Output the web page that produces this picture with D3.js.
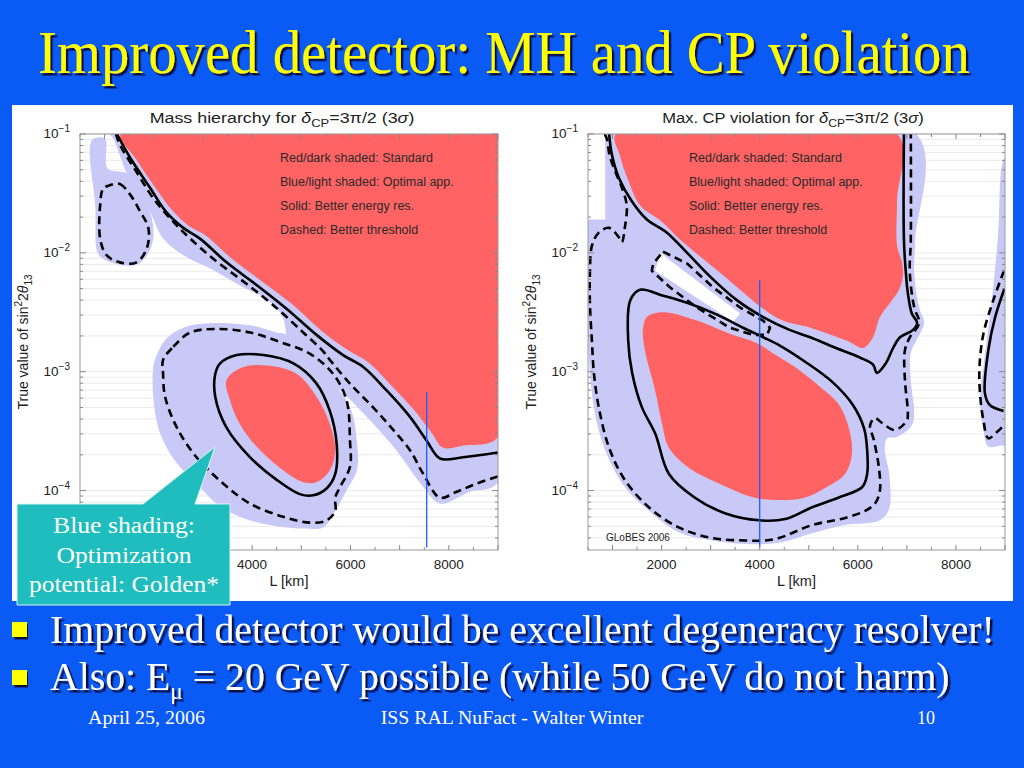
<!DOCTYPE html>
<html>
<head>
<meta charset="utf-8">
<script src="https://cdn.jsdelivr.net/npm/d3@7"></script>
<style>
  html, body { margin: 0; padding: 0; background: #0a5af5; }
  svg { display: block; }
</style>
</head>
<body>
<svg id="slide" width="1024" height="768">
  <defs>
    <filter id="shadow" x="-5%" y="-20%" width="110%" height="150%">
      <feDropShadow dx="2.5" dy="2.5" stdDeviation="0.4" flood-color="#101040" flood-opacity="1"/>
    </filter>
  </defs>
</svg>
<script>
// every point is [L in km, log10 of true sin^2 2theta13]
const lDomain = [500, 9000];
const logDomain = [-4.5, -1];
const xTicks = [2000, 4000, 6000, 8000];
const yDecades = [-1, -2, -3, -4];
const legendLines = ["Red/dark shaded: Standard", "Blue/light shaded: Optimal app.",
                     "Solid: Better energy res.", "Dashed: Better threshold"];

// ---- left panel: mass hierarchy ----
const mhBlueBlob = [[700,-1.12],[770,-1.04],[1010,-1.04],[1060,-1.29],[1450,-1.33],[1650,-1.46],
  [1920,-1.65],[1990,-1.88],[1860,-2.02],[1650,-2.10],[1310,-2.10],[970,-2.05],[850,-1.99],[810,-1.60]];
const mhBlueBand = [[1110,-1.00],[9000,-1.00],[9000,-3.93],[8430,-4.01],[7820,-4.11],[7480,-3.97],
  [6870,-3.63],[6260,-3.35],[5850,-3.18],[5180,-2.96],[4770,-2.85],[4700,-2.72],[4630,-2.55],
  [4360,-2.41],[3820,-2.29],[3140,-2.13],[2600,-2.02],[2190,-1.88],[1920,-1.65],[1450,-1.33],
  [1310,-1.18],[1180,-1.04]];
const mhBlueOval = [[2060,-2.86],[2260,-2.72],[2670,-2.62],[3280,-2.59],[3960,-2.61],[4500,-2.67],
  [4700,-2.69],[4840,-2.85],[5580,-3.07],[5990,-3.30],[6130,-3.58],[6130,-3.83],[5920,-4.00],
  [5650,-4.20],[5450,-4.31],[5040,-4.32],[4360,-4.29],[3750,-4.22],[3280,-4.11],[2870,-3.94],
  [2470,-3.77],[2130,-3.52],[1990,-3.21],[1990,-2.96]];
const mhRedBand = [[1330,-1.00],[1620,-1.20],[2030,-1.45],[2370,-1.64],[2700,-1.77],[3040,-1.85],
  [3590,-2.05],[4200,-2.24],[4810,-2.43],[5420,-2.66],[5950,-2.82],[6360,-2.92],[6840,-3.12],
  [7310,-3.33],[7660,-3.52],[7880,-3.64],[8290,-3.62],[9000,-3.55],[9000,-1.00]];
const mhRedOval = [[3480,-3.07],[3820,-2.96],[4360,-2.95],[4910,-3.02],[5310,-3.21],[5580,-3.44],
  [5690,-3.66],[5580,-3.83],[5310,-3.93],[5040,-3.93],[4630,-3.83],[4090,-3.63],[3750,-3.44],[3550,-3.24]];
const mhSolidBand = [[1250,-1.00],[1520,-1.20],[1920,-1.45],[2260,-1.66],[2600,-1.79],[2940,-1.88],
  [3480,-2.08],[4090,-2.27],[4700,-2.47],[5310,-2.69],[5850,-2.86],[6260,-2.96],[6740,-3.16],
  [7210,-3.38],[7550,-3.58],[7820,-3.73],[8290,-3.72],[9000,-3.68]];
const mhDashedBand = [[1230,-1.00],[1310,-1.09],[1650,-1.32],[1990,-1.54],[2400,-1.74],[2740,-1.88],
  [3210,-2.05],[3820,-2.24],[4430,-2.44],[5040,-2.67],[5450,-2.83],[5580,-2.90],[5990,-3.10],
  [6460,-3.30],[6870,-3.49],[7210,-3.66],[7480,-3.86],[7820,-4.06],[8160,-4.01],[8570,-3.94],[9000,-3.88]];
const mhDashedBlob = [[1110,-1.43],[1310,-1.42],[1520,-1.51],[1720,-1.65],[1890,-1.79],[1860,-1.96],
  [1650,-2.08],[1310,-2.08],[1040,-2.02],[910,-1.88],[910,-1.60],[970,-1.46]];
const mhSolidOval = [[3350,-2.93],[3690,-2.86],[4230,-2.86],[4840,-2.93],[5310,-3.10],[5580,-3.33],
  [5720,-3.61],[5690,-3.86],[5520,-3.98],[5240,-4.04],[4970,-4.03],[4500,-3.91],[3960,-3.72],
  [3480,-3.47],[3250,-3.21],[3250,-3.02]];
const mhDashedOval = [[2190,-2.90],[2400,-2.79],[2740,-2.67],[3280,-2.64],[3960,-2.67],[4570,-2.75],
  [5180,-2.85],[5650,-3.02],[5920,-3.24],[5990,-3.58],[5990,-3.80],[5790,-3.97],[5690,-4.06],
  [5690,-4.17],[5520,-4.25],[5180,-4.27],[4630,-4.22],[3960,-4.11],[3410,-3.94],[2870,-3.72],
  [2470,-3.47],[2230,-3.21],[2190,-3.02]];
const mhMarker = [[7550,-3.17],[7550,-4.48]];

// ---- right panel: max. CP violation ----
const cpBlueMain = [[500,-1.00],[7190,-1.00],[7170,-1.89],[7150,-2.17],[7250,-2.46],[7350,-2.59],
  [7190,-2.74],[7080,-2.84],[7080,-3.07],[7150,-3.35],[7100,-3.45],[6800,-3.55],[6600,-3.56],
  [6550,-3.66],[6640,-3.86],[6640,-4.15],[6450,-4.25],[5740,-4.29],[5070,-4.36],[4390,-4.44],
  [3700,-4.45],[3030,-4.42],[2350,-4.35],[1800,-4.19],[1250,-3.97],[850,-3.66],[640,-3.35],
  [540,-3.01],[500,-2.74]];
const cpBlueLobe = [[9000,-1.20],[8930,-1.28],[8860,-1.84],[8730,-2.40],[8560,-2.96],[8490,-3.24],
  [8560,-3.49],[8660,-3.63],[8930,-3.62],[9000,-3.62]];
const cpWhiteGap = [[500,-1.00],[850,-1.00],[850,-1.72],[500,-1.72]];
const cpWhiteStrip = [[1970,-2.00],[3600,-2.51],[3460,-2.58],[1870,-2.15]];
const cpRedUpper = [[1070,-1.00],[6800,-1.00],[6800,-1.56],[6800,-1.94],[6900,-2.08],[6920,-2.19],
  [6840,-2.31],[6660,-2.42],[6450,-2.54],[6310,-2.71],[6110,-2.80],[5780,-2.74],[5030,-2.63],
  [4470,-2.57],[4070,-2.47],[3600,-2.31],[3050,-2.12],[2380,-1.89],[2010,-1.74],[1560,-1.60],
  [1320,-1.39],[1150,-1.18]];
const cpRedLower = [[1700,-2.54],[2030,-2.50],[2720,-2.57],[3390,-2.68],[3950,-2.76],[4250,-2.84],
  [4720,-2.96],[5210,-3.12],[5620,-3.28],[5820,-3.48],[5880,-3.69],[5740,-3.86],[5410,-3.96],
  [4920,-4.06],[4450,-4.08],[3900,-4.06],[3170,-3.94],[2560,-3.81],[2150,-3.64],[2010,-3.44],
  [1870,-3.16],[1660,-2.82],[1620,-2.65]];
const cpSolidUpper = [[930,-1.00],[990,-1.18],[1130,-1.37],[1400,-1.57],[1700,-1.72],[2110,-1.83],
  [2520,-2.00],[2990,-2.20],[3540,-2.40],[4070,-2.54],[4620,-2.65],[5030,-2.71],[5490,-2.79],
  [6040,-2.88],[6310,-2.94],[6390,-3.01],[6570,-2.93],[6720,-2.80],[6860,-2.71],[7120,-2.65],
  [7210,-2.59],[7100,-2.51],[7020,-2.34],[6980,-2.17],[6940,-1.89],[6940,-1.00]];
const cpSolidLower = [[4410,-2.78],[4940,-2.92],[5490,-3.09],[5900,-3.28],[6130,-3.48],[6190,-3.66],
  [6190,-3.86],[6090,-3.97],[5600,-4.06],[5070,-4.14],[4520,-4.24],[3990,-4.25],[3290,-4.19],
  [2680,-4.06],[2150,-3.86],[1870,-3.52],[1600,-3.30],[1400,-3.01],[1320,-2.74],[1360,-2.40],
  [1560,-2.31],[2030,-2.36],[2520,-2.42],[3130,-2.52],[3660,-2.63],[4070,-2.71]];
const cpDashedOuter = [[840,-1.00],[890,-1.05],[940,-1.18],[1060,-1.32],[1190,-1.45],[1290,-1.60],
  [1250,-1.79],[1190,-1.91],[1130,-1.87],[930,-1.79],[720,-1.83],[580,-1.94],[540,-2.16],
  [540,-2.44],[580,-2.74],[620,-3.01],[720,-3.30],[930,-3.64],[1250,-3.91],[1740,-4.14],
  [2350,-4.31],[3030,-4.40],[3700,-4.42],[4110,-4.42],[4390,-4.40],[5070,-4.29],[5740,-4.23],
  [6150,-4.17],[6350,-4.11],[6450,-4.00],[6430,-3.81],[6330,-3.58],[6250,-3.45],[6350,-3.39],
  [6490,-3.43],[6760,-3.49],[7000,-3.41],[7020,-3.35],[6960,-3.07],[6960,-2.82],[7060,-2.71],
  [7250,-2.59],[7150,-2.46],[7060,-2.17],[7080,-1.89],[7080,-1.00]];
const cpDashedBox = [[2030,-1.99],[2520,-2.09],[3050,-2.29],[3600,-2.46],[4070,-2.57],[4210,-2.63],
  [4150,-2.69],[3860,-2.69],[3390,-2.63],[2720,-2.46],[2170,-2.29],[1800,-2.15],[1830,-2.09]];
const cpSolidLobe = [[8990,-2.30],[8800,-2.54],[8660,-2.82],[8590,-3.18],[8690,-3.28],[8970,-3.33]];
const cpDashedLobe = [[8980,-2.15],[8760,-2.40],[8560,-2.68],[8480,-2.96],[8490,-3.18],[8560,-3.41],
  [8660,-3.56],[8830,-3.51],[8980,-3.45]];
const cpMarker = [[4000,-2.23],[4000,-4.48]];

const blueFill = "#c9c9f8", redFill = "#ff6363";
const sans = "'Liberation Sans', Arial, sans-serif";
const serif = "'Liberation Serif', 'Times New Roman', serif";

const svg = d3.select("#slide");

// squeeze a text horizontally (about its anchor) to a measured width
function fitWidth(sel, width) {
  sel.each(function () {
    const w = this.getComputedTextLength();
    const x0 = +this.getAttribute("x");
    const k = width / w;
    this.setAttribute("transform", "translate(" + x0 + ",0) scale(" + k + ",1) translate(" + (-x0) + ",0)");
  });
}

svg.append("rect").attr("x", 12).attr("y", 105).attr("width", 1001).attr("height", 496).attr("fill", "#fff");

function drawPlot(cfg) {
  const g = svg.append("g");
  const x = d3.scaleLinear().domain(lDomain).range([cfg.left, cfg.right]);
  const y = d3.scaleLog().domain([Math.pow(10, logDomain[0]), Math.pow(10, logDomain[1])]).range([550, 134]);
  const pt = d => [x(d[0]), y(Math.pow(10, d[1]))];

  g.append("clipPath").attr("id", "clip-" + cfg.id).append("rect")
    .attr("x", cfg.left).attr("y", 134).attr("width", cfg.right - cfg.left).attr("height", 416);

  // log grid values
  let yMinor = [];
  for (let k = -5; k <= -1; k++) {
    for (let m = 1; m <= 9; m++) {
      const v = m * Math.pow(10, k);
      if (v >= y.domain()[0] * 0.999 && v <= y.domain()[1] * 1.001) yMinor.push({v: v, major: m === 1});
    }
  }

  g.selectAll(".grid").data(yMinor).enter().append("line")
    .attr("x1", cfg.left).attr("x2", cfg.right)
    .attr("y1", d => y(d.v)).attr("y2", d => y(d.v))
    .attr("stroke", "#e4e4e4").attr("stroke-width", 0.8);

  const area = g.append("g").attr("clip-path", "url(#clip-" + cfg.id + ")");

  cfg.fills.forEach(f => {
    area.append("path")
      .attr("d", d3.line().curve(f.curve || d3.curveCatmullRomClosed.alpha(0.5))(f.pts.map(pt)))
      .attr("fill", f.color);
  });

  cfg.lines.forEach(l => {
    const curve = l.curve || (l.closed ? d3.curveCatmullRomClosed.alpha(0.5) : d3.curveCatmullRom.alpha(0.5));
    area.append("path")
      .attr("d", d3.line().curve(curve)(l.pts.map(pt)))
      .attr("fill", "none").attr("stroke", "#000").attr("stroke-width", 2.6)
      .attr("stroke-linejoin", "round")
      .attr("stroke-dasharray", l.dashed ? "8,5" : null);
  });

  area.append("path")
    .attr("d", d3.line()(cfg.marker.map(pt)))
    .attr("stroke", "#1a5cff").attr("stroke-width", 1.3);

  // frame and ticks
  g.append("rect").attr("x", cfg.left).attr("y", 134)
    .attr("width", cfg.right - cfg.left).attr("height", 416)
    .attr("fill", "none").attr("stroke", "#999").attr("stroke-width", 1);

  const xMinor = d3.range(500, 9001, 500);
  xMinor.forEach(v => {
    const len = v % 1000 === 0 ? 5 : 3;
    g.append("line").attr("x1", x(v)).attr("x2", x(v)).attr("y1", 550).attr("y2", 550 - len)
      .attr("stroke", "#888");
    g.append("line").attr("x1", x(v)).attr("x2", x(v)).attr("y1", 134).attr("y2", 134 + len)
      .attr("stroke", "#888");
  });
  yMinor.forEach(d => {
    const len = d.major ? 6 : 3;
    g.append("line").attr("x1", cfg.left).attr("x2", cfg.left + len).attr("y1", y(d.v)).attr("y2", y(d.v))
      .attr("stroke", "#888");
    g.append("line").attr("x1", cfg.right).attr("x2", cfg.right - len).attr("y1", y(d.v)).attr("y2", y(d.v))
      .attr("stroke", "#888");
  });

  // tick labels
  g.selectAll(".xl").data(xTicks).enter().append("text")
    .attr("x", d => x(d)).attr("y", 569).attr("text-anchor", "middle")
    .attr("font-family", sans).attr("font-size", 13.5).attr("fill", "#222")
    .text(d => d);

  yDecades.forEach(e => {
    const t = g.append("text").attr("x", cfg.left - 10).attr("y", y(Math.pow(10, e)) + 4)
      .attr("text-anchor", "end").attr("font-family", sans).attr("font-size", 13.5).attr("fill", "#222");
    t.append("tspan").text("10");
    t.append("tspan").attr("dy", -6).attr("font-size", 10).text("\u2212" + Math.abs(e));
  });

  // axis titles
  const cx = (cfg.left + cfg.right) / 2;
  g.append("text").attr("x", cx).attr("y", 586).attr("text-anchor", "middle")
    .attr("font-family", sans).attr("font-size", 14.5).attr("fill", "#222").text("L [km]");

  const yl = g.append("text")
    .attr("transform", "translate(" + (cfg.left - 52) + ",342) rotate(-90)")
    .attr("text-anchor", "middle").attr("font-family", sans).attr("font-size", 14).attr("fill", "#222");
  yl.append("tspan").text("True value of sin");
  yl.append("tspan").attr("dy", -6).attr("font-size", 10).text("2");
  yl.append("tspan").attr("dy", 6).text("2");
  yl.append("tspan").attr("font-style", "italic").text("\u03b8");
  yl.append("tspan").attr("dy", 4).attr("font-size", 10).text("13");

  const tt = g.append("text").attr("x", cfg.titleX).attr("y", 123).attr("text-anchor", "middle")
    .attr("font-family", sans).attr("font-size", 14.5).attr("fill", "#222");
  tt.append("tspan").text(cfg.title + " ");
  tt.append("tspan").attr("font-style", "italic").text("\u03b4");
  tt.append("tspan").attr("dy", 4).attr("font-size", 10.5).text("CP");
  tt.append("tspan").attr("dy", -4).text("=3\u03c0/2 (3");
  tt.append("tspan").attr("font-style", "italic").text("\u03c3");
  tt.append("tspan").text(")");
  fitWidth(tt, cfg.titleW);

  g.selectAll(".lg").data(legendLines).enter().append("text")
    .attr("x", cfg.legendX).attr("y", (d, i) => 162 + i * 24)
    .attr("font-family", sans).attr("font-size", 12.5).attr("fill", "#2a2a2a")
    .text(d => d);
}

drawPlot({
  id: "mh", left: 80, right: 498, title: "Mass hierarchy for", titleX: 282, titleW: 265, legendX: 280,
  fills: [
    {pts: mhBlueBlob, color: blueFill},
    {pts: mhBlueBand, color: blueFill},
    {pts: mhBlueOval, color: blueFill},
    {pts: mhRedBand, color: redFill},
    {pts: mhRedOval, color: redFill}
  ],
  lines: [
    {pts: mhSolidBand},
    {pts: mhDashedBand, dashed: true},
    {pts: mhDashedBlob, dashed: true, closed: true},
    {pts: mhSolidOval, closed: true},
    {pts: mhDashedOval, dashed: true, closed: true}
  ],
  marker: mhMarker
});

drawPlot({
  id: "cp", left: 588, right: 1005, title: "Max. CP violation for", titleX: 793, titleW: 262, legendX: 689,
  fills: [
    {pts: cpBlueMain, color: blueFill},
    {pts: cpBlueLobe, color: blueFill},
    {pts: cpWhiteGap, color: "#fff", curve: d3.curveLinearClosed},
    {pts: cpWhiteStrip, color: "#fff", curve: d3.curveLinearClosed},
    {pts: cpRedUpper, color: redFill},
    {pts: cpRedLower, color: redFill}
  ],
  lines: [
    {pts: cpSolidUpper},
    {pts: cpSolidLower, closed: true},
    {pts: cpDashedOuter, dashed: true},
    {pts: cpDashedBox, dashed: true, curve: d3.curveLinearClosed},
    {pts: cpSolidLobe},
    {pts: cpDashedLobe, dashed: true}
  ],
  marker: cpMarker
});

svg.append("text").attr("x", 606).attr("y", 541).attr("font-family", sans)
  .attr("font-size", 10).attr("fill", "#222").text("GLoBES 2006");

// callout
svg.append("path").attr("d", "M17,504 H143 L215,447 L195,504 H230 V605 H17 Z")
  .attr("fill", "#1fbdbd").attr("stroke", "#d9f2f2").attr("stroke-width", 1);
[["Blue shading:", 533, 142], ["Optimization", 563, 135], ["potential: Golden*", 592, 190]].forEach(r => {
  svg.append("text").attr("x", 124).attr("y", r[1]).attr("text-anchor", "middle")
    .attr("font-family", serif).attr("font-size", 24).attr("fill", "#fff").text(r[0])
    .call(fitWidth, r[2]);
});

// slide texts, with drop shadow filter
function slideText(x, y, size, fill, width, build) {
  const t = svg.append("text").attr("x", x).attr("y", y)
    .attr("font-family", serif).attr("font-size", size).attr("fill", fill)
    .attr("filter", "url(#shadow)");
  build(t);
  fitWidth(t, width);
}

slideText(38, 73, 62, "#ffff00", 932, t => t.text("Improved detector: MH and CP violation"));

[622, 670].forEach(yy => {
  svg.append("rect").attr("x", 12).attr("y", yy).attr("width", 15).attr("height", 15)
    .attr("fill", "#ffff00").attr("filter", "url(#shadow)");
});

slideText(50, 643, 41, "#fff", 945, t => t.text("Improved detector would be excellent degeneracy resolver!"));
slideText(50, 690, 41, "#fff", 900, t => {
  t.append("tspan").text("Also: E");
  t.append("tspan").attr("dy", 9).attr("font-size", 24).text("\u03bc");
  t.append("tspan").attr("dy", -9).text(" = 20 GeV possible (while 50 GeV do not harm)");
});

svg.append("text").attr("x", 88).attr("y", 724).attr("font-family", serif).attr("font-size", 19)
  .attr("fill", "#fff").text("April 25, 2006").call(fitWidth, 117);
svg.append("text").attr("x", 512).attr("y", 724).attr("text-anchor", "middle").attr("font-family", serif)
  .attr("font-size", 19).attr("fill", "#fff").text("ISS RAL NuFact - Walter Winter").call(fitWidth, 263);
svg.append("text").attr("x", 935).attr("y", 724).attr("text-anchor", "end").attr("font-family", serif)
  .attr("font-size", 19).attr("fill", "#fff").text("10").call(fitWidth, 18);
</script>
</body>
</html>
